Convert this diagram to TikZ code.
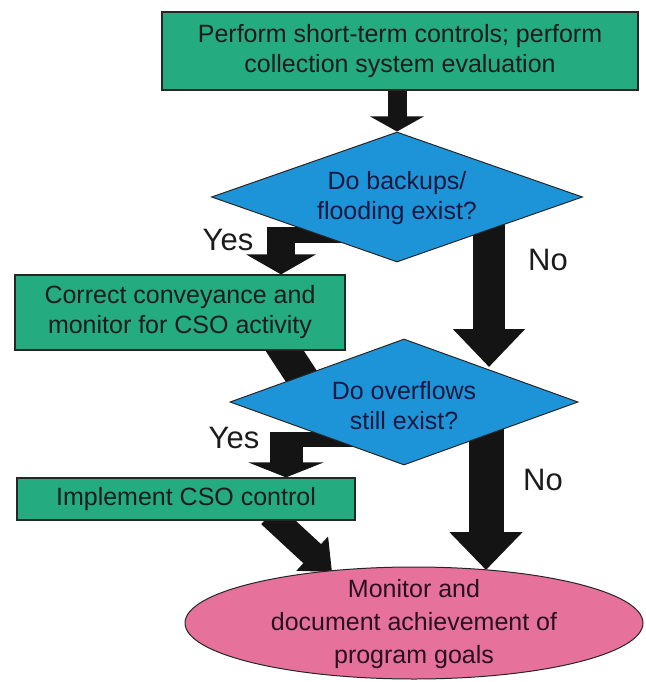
\documentclass[tikz,border=0pt]{standalone}
\usepackage{fontspec}
\setmainfont{Liberation Sans}
\usetikzlibrary{shapes.geometric,arrows.meta,calc}
\definecolor{boxgreen}{RGB}{36,172,128}
\definecolor{dblue}{RGB}{30,148,216}
\definecolor{epink}{RGB}{230,114,156}
\definecolor{arrowblk}{RGB}{20,20,20}
\definecolor{txtgray}{RGB}{28,28,28}
\definecolor{txtnavy}{RGB}{24,24,64}
\definecolor{txtplum}{RGB}{42,16,28}
\pgfdeclarelayer{bg}
\pgfsetlayers{bg,main}
\begin{document}
\begin{tikzpicture}[x=1pt,y=-1pt,
  procbox/.style={rectangle, draw=black!85, line width=1.2pt, fill=boxgreen, inner sep=0pt,
    text=txtgray, align=center, font=\fontsize{25}{30}\selectfont},
  decision/.style={diamond, draw=black!85, line width=1pt, fill=dblue, inner sep=0pt},
  dtext/.style={text=txtnavy, align=center, font=\fontsize{25}{30}\selectfont},
  goalshape/.style={ellipse, draw=black!85, line width=1pt, fill=epink, inner sep=0pt},
  gtext/.style={text=txtplum, align=center, font=\fontsize{25}{33}\selectfont},
  lbl/.style={text=txtgray, font=\fontsize{31}{36}\selectfont},
  flow/.style={draw=arrowblk, fill=arrowblk, line width=#1, line cap=butt}
]
\useasboundingbox (0,0) rectangle (645,682);

% nodes
\node[procbox, minimum width=476pt, minimum height=78pt] (top) at (400,51)
  {Perform short-term controls; perform\\collection system evaluation};
\node[decision, minimum width=371pt, minimum height=130pt] (d1) at (397,197) {};
\node[dtext] (d1t) at (397,198) {Do backups/\\flooding exist?};
\node[procbox, minimum width=330pt, minimum height=75pt] (box2) at (180,312.5)
  {Correct conveyance and\\monitor for CSO activity};
\node[decision, minimum width=348pt, minimum height=126pt] (d2) at (404,402) {};
\node[dtext] (d2t) at (404,406) {Do overflows\\still exist?};
\node[procbox, minimum width=338pt, minimum height=42pt] (box3) at (186,499)
  {Implement CSO control};
\node[goalshape, minimum width=458pt, minimum height=112pt] (goal) at (414,623) {};
\node[gtext] (goalt) at (414,624) {Monitor and\\document achievement of\\program goals};

% labels
\node[lbl] (yes1) at (228,240) {Yes};
\node[lbl] (no1) at (548,260) {No};
\node[lbl] (yes2) at (234,438) {Yes};
\node[lbl] (no2) at (543,480) {No};

% connectors (behind the shapes)
\begin{pgfonlayer}{bg}
  \fill[white] (0,0) rectangle (645,682);
  % top box -> decision 1
  \draw[flow=19pt, -{Triangle[length=15pt,width=53pt]}]
    (top.south -| d1.north) -- (d1.north);
  % decision 1 -> box 2 (Yes)
  \draw[flow=16pt] ($(d1.center)+(-47,38)$) -- ($(d1.center)+(-130,38)$);
  \draw[flow=28pt, -{Triangle[length=20pt,width=69pt]}]
    ($(d1.center)+(-116,30)$) -- ($(box2.north)+(101,0)$);
  % decision 1 -> decision 2 (No)
  \draw[flow=32pt, -{Triangle[length=38pt,width=70pt]}]
    ($(d1.center)+(92,18)$) -- ($(d2.center)+(85,-35)$);
  % box 2 -> decision 2
  \draw[flow=32pt, -{Triangle[length=30pt,width=60pt]}]
    ($(box2.south)+(98,-10)$) -- ($(d2.center)+(-74,18)$);
  % decision 2 -> box 3 (Yes)
  \draw[flow=15pt] ($(d2.center)+(-44,37.5)$) -- ($(d2.center)+(-134,37.5)$);
  \draw[flow=33pt, -{Triangle[length=15pt,width=75pt]}]
    ($(d2.center)+(-118,30)$) -- ($(box3.north)+(100,0)$);
  % decision 2 -> goal (No)
  \draw[flow=35pt, -{Triangle[length=38pt,width=71pt]}]
    ($(d2.center)+(82,20)$) -- ($(goal.center)+(72,-53)$);
  % box 3 -> goal
  \draw[flow=26pt, -{Triangle[length=27pt,width=45pt]}]
    ($(box3.south)+(84,-6)$) -- ($(goal.center)+(-82,-51)$);
\end{pgfonlayer}
\end{tikzpicture}
\end{document}
